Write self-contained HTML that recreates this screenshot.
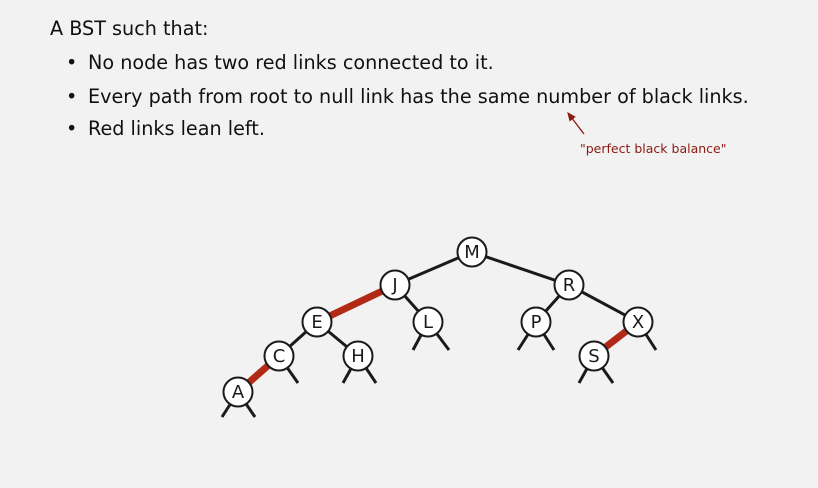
<!DOCTYPE html>
<html><head><style>
body{margin:0;background:#f2f2f2;width:818px;height:488px;overflow:hidden;font-family:"DejaVu Sans","Liberation Sans",sans-serif;}
.t{position:absolute;font-size:19.2px;color:#111;white-space:nowrap;}
</style></head><body>
<div class="t" style="left:50px;top:17px">A BST such that:</div>
<div class="t" style="left:66px;top:51px">•</div><div class="t" style="left:88px;top:51px">No node has two red links connected to it.</div>
<div class="t" style="left:66px;top:85px">•</div><div class="t" style="left:88px;top:85px">Every path from root to null link has the same number of black links.</div>
<div class="t" style="left:66px;top:117px">•</div><div class="t" style="left:88px;top:117px">Red links lean left.</div>
<div class="t" style="left:580px;top:141px;font-size:12.5px;color:#8b1a10">"perfect black balance"</div>
<svg width="818" height="488" style="position:absolute;left:0;top:0">
<defs><marker id="ar" markerWidth="8" markerHeight="8" refX="6" refY="4" orient="auto"><path d="M0,1L7,4L0,7z" fill="#8b1a10"/></marker></defs>
<line x1="584" y1="134" x2="568" y2="113" stroke="#8b1a10" stroke-width="1.3" marker-end="url(#ar)"/>
<g stroke="#1a1a1a" stroke-width="3">
<line x1="472" y1="252" x2="395" y2="285"/><line x1="472" y1="252" x2="569" y2="285"/>
<line x1="395" y1="285" x2="428" y2="322"/>
<line x1="569" y1="285" x2="536" y2="322"/><line x1="569" y1="285" x2="638" y2="322"/>
<line x1="317" y1="322" x2="279" y2="356"/><line x1="317" y1="322" x2="358" y2="356"/>
<line x1="238" y1="392" x2="222" y2="417"/><line x1="238" y1="392" x2="255" y2="417"/>
<line x1="279" y1="356" x2="298" y2="383"/>
<line x1="358" y1="356" x2="343" y2="383"/><line x1="358" y1="356" x2="376" y2="383"/>
<line x1="428" y1="322" x2="413" y2="350"/><line x1="428" y1="322" x2="449" y2="350"/>
<line x1="536" y1="322" x2="518" y2="350"/><line x1="536" y1="322" x2="554" y2="350"/>
<line x1="594" y1="356" x2="579" y2="383"/><line x1="594" y1="356" x2="613" y2="383"/>
<line x1="638" y1="322" x2="656" y2="350"/>
</g>
<g stroke="#b22a15" stroke-width="7">
<line x1="395" y1="285" x2="317" y2="322"/><line x1="279" y1="356" x2="238" y2="392"/><line x1="638" y1="322" x2="594" y2="356"/>
</g>
<g fill="#fff" stroke="#1a1a1a" stroke-width="2">
<circle cx="472" cy="252" r="14.5"/><circle cx="395" cy="285" r="14.5"/><circle cx="569" cy="285" r="14.5"/>
<circle cx="317" cy="322" r="14.5"/><circle cx="428" cy="322" r="14.5"/><circle cx="536" cy="322" r="14.5"/><circle cx="638" cy="322" r="14.5"/>
<circle cx="279" cy="356" r="14.5"/><circle cx="358" cy="356" r="14.5"/><circle cx="594" cy="356" r="14.5"/><circle cx="238" cy="392" r="14.5"/>
</g>
<g font-family="DejaVu Sans, Liberation Sans, sans-serif" font-size="18" text-anchor="middle" fill="#1a1a1a">
<text x="472" y="258">M</text><text x="395" y="291">J</text><text x="569" y="291">R</text>
<text x="317" y="328">E</text><text x="428" y="328">L</text><text x="536" y="328">P</text><text x="638" y="328">X</text>
<text x="279" y="362">C</text><text x="358" y="362">H</text><text x="594" y="362">S</text><text x="238" y="398">A</text>
</g>
</svg>
</body></html>
